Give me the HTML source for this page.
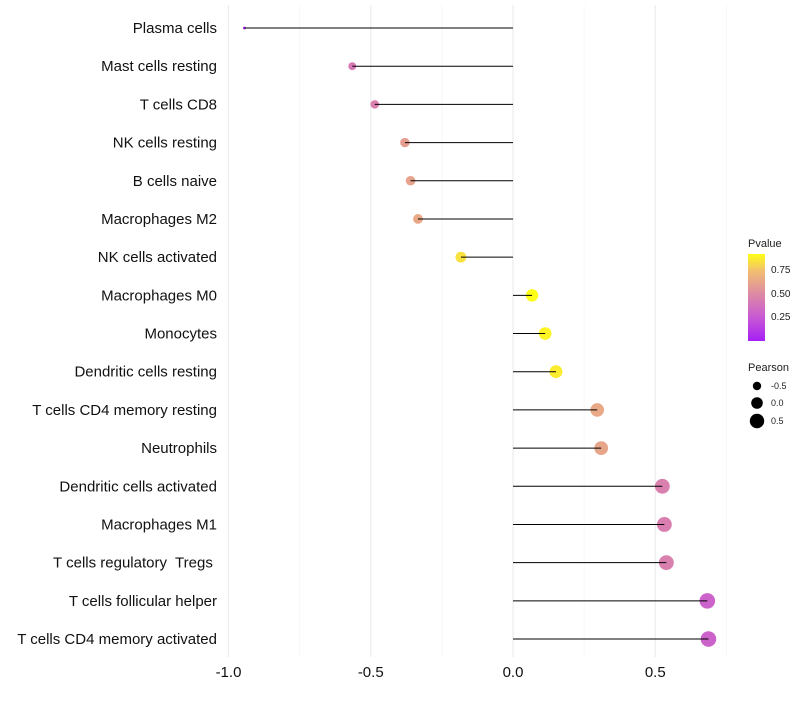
<!DOCTYPE html>
<html><head><meta charset="utf-8"><style>
body{margin:0;background:#fff;font-family:"Liberation Sans",sans-serif}
text{white-space:pre}
</style></head><body>
<svg id="chart" width="800" height="700" xmlns="http://www.w3.org/2000/svg">
<defs><linearGradient id="pg" x1="0" y1="1" x2="0" y2="0">
<stop offset="0" stop-color="#a61ff5"/><stop offset="0.27" stop-color="#c859d4"/><stop offset="0.54" stop-color="#dd8aa4"/><stop offset="0.8" stop-color="#f1bd72"/><stop offset="1" stop-color="#fffe16"/></linearGradient></defs>
<g id="grid"></g><g id="marks"></g><g id="ylabels"></g><g id="xlabels"></g>
<g font-size="10" fill="#222">
<text x="748" y="247" font-size="11">Pvalue</text>
<rect x="748" y="254" width="17" height="87" fill="url(#pg)"/>
<text x="771" y="273">0.75</text><text x="771" y="297">0.50</text><text x="771" y="320">0.25</text>
</g>
<g font-size="9" fill="#222">
<text x="748" y="371" font-size="11">Pearson</text>
<circle cx="757" cy="386" r="4.2" fill="#000"/><text x="771" y="389">-0.5</text>
<circle cx="757" cy="403" r="5.8" fill="#000"/><text x="771" y="406">0.0</text>
<circle cx="757" cy="421" r="7.2" fill="#000"/><text x="771" y="424">0.5</text>
</g>
</svg>
<script>
const cells=["Plasma cells","Mast cells resting","T cells CD8","NK cells resting","B cells naive","Macrophages M2","NK cells activated","Macrophages M0","Monocytes","Dendritic cells resting","T cells CD4 memory resting","Neutrophils","Dendritic cells activated","Macrophages M1","T cells regulatory  Tregs ","T cells follicular helper","T cells CD4 memory activated"];
const pearson=[-0.944,-0.565,-0.486,-0.38,-0.36,-0.334,-0.183,0.067,0.113,0.151,0.296,0.31,0.525,0.532,0.539,0.683,0.687];
const pvalue=[0.02,0.42,0.45,0.6,0.62,0.65,0.85,0.93,0.9,0.88,0.65,0.63,0.45,0.44,0.45,0.3,0.3];
const xticks=[-1,-0.5,0,0.5];
const xtickLabels=["-1.0","-0.5","0.0","0.5"];
const minorTicks=[-0.75,-0.25,0.25,0.75];
const NS="http://www.w3.org/2000/svg";
const xs=v=>513+v*284.5;
const ys=i=>28+i*38.19;
const rs=v=>Math.sqrt(Math.max(1.5,36+36*v));
const stops=[[0,[166,31,245]],[0.25,[200,89,212]],[0.5,[221,138,164]],[0.75,[241,189,114]],[0.93,[255,254,22]]];
function col(p){let a=stops[0],b=stops[stops.length-1];
 if(p<=a[0])return `rgb(${a[1]})`;if(p>=b[0])return `rgb(${b[1]})`;
 for(let k=0;k<stops.length-1;k++){if(p>=stops[k][0]&&p<=stops[k+1][0]){a=stops[k];b=stops[k+1];break;}}
 const t=(p-a[0])/(b[0]-a[0]);return "rgb("+a[1].map((c,j)=>Math.round(c+(b[1][j]-c)*t)).join(",")+")";}
function mk(tag,at,parent){const e=document.createElementNS(NS,tag);for(const k in at)e.setAttribute(k,at[k]);document.getElementById(parent).appendChild(e);return e;}
minorTicks.forEach(v=>{const l=mk("line",{x1:xs(v),x2:xs(v),y1:5,y2:657,stroke:"#f3f3f3","stroke-width":0.6},"grid");

});
xticks.forEach((v,i)=>{const l=mk("line",{x1:xs(v),x2:xs(v),y1:5,y2:657,stroke:"#ebebeb","stroke-width":1.1},"grid");


const t=mk("text",{x:xs(v),y:677,"text-anchor":"middle","font-size":15,fill:"#111"},"xlabels");t.textContent=xtickLabels[i];

});
cells.forEach((c,i)=>{
const y=ys(i);
const t=mk("text",{x:217,y:y+5,"text-anchor":"end","font-size":15,fill:"#111"},"ylabels");t.textContent=c;


const cc=mk("circle",{cx:xs(pearson[i]),cy:y,r:rs(pearson[i]),fill:col(pvalue[i])},"marks");


const l=mk("line",{x1:xs(0),x2:xs(pearson[i]),y1:y,y2:y,stroke:"#000","stroke-width":1},"marks");


});
</script>
</body></html>
